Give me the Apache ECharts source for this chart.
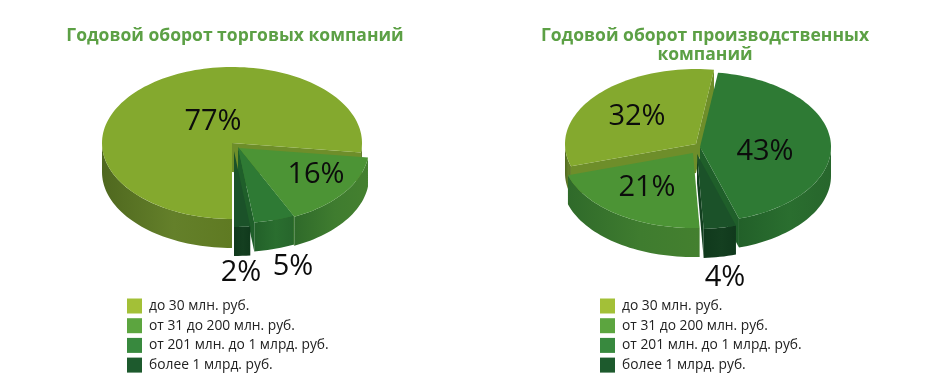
<!DOCTYPE html>
<html>
<head>
<meta charset="utf-8">
<style>
  html, body { margin: 0; padding: 0; background: #fff; }
  #chart { width: 941px; height: 391px; }
</style>
<script src="https://cdn.jsdelivr.net/npm/echarts@6/dist/echarts.min.js"></script>
</head>
<body>
<div id="chart"></div>
<script>
var categories = ['до 30 млн. руб.', 'от 31 до 200 млн. руб.', 'от 201 млн. до 1 млрд. руб.', 'более 1 млрд. руб.'];
var tradeShares = [77, 16, 5, 2];
var productionShares = [32, 21, 43, 4];
var tradeTitle = 'Годовой оборот торговых компаний';
var productionTitle = 'Годовой оборот производственных\nкомпаний';

var legendColors = ['#a3c037', '#5ca53f', '#38893e', '#1d5a2d'];
var topColors = ['#84a92e', '#4c9435', '#2e7a34', '#1b5229'];
var wallColors = [
    ['#4f681f', '#64802a', '#5f7a22'],
    ['#2f6a2a', '#3f7c2f', '#44802f'],
    ['#226029', '#2a6e2f', '#27662c'],
    ['#10391c', '#143f20', '#10391c']
];
var cutColors = ['#6e8e2a', '#3a7a2e', '#1f5f2a', '#123f1f'];

// clockwise order of the slices starts at startAngle, drawOrder is back to front
var trade = {
    shares: tradeShares, rx: 130, ry: 76, depth: 29, startAngle: 90,
    sweepOrder: [0, 1, 2, 3], drawOrder: [0, 1, 2, 3],
    centers: [[232, 143], [239, 148], [238, 147], [234, 151]],
    labels: [[213, 122], [316, 175], [293, 267], [241, 273]]
};
var production = {
    shares: productionShares, rx: 131, ry: 75, depth: 29, startAngle: 162.7,
    sweepOrder: [0, 2, 3, 1], drawOrder: [0, 2, 1, 3],
    centers: [[696, 144], [693, 153], [700, 147], [697, 154]],
    labels: [[637, 117], [647, 188], [765, 152], [725, 278]]
};

function sliceAngles(pie) {
    var angles = {};
    var current = pie.startAngle;
    pie.sweepOrder.forEach(function (i) {
        var sweep = pie.shares[i] * 3.6;
        angles[i] = [current, current + sweep];
        current += sweep;
    });
    return angles;
}

function arcPoints(c, pie, from, to) {
    var pts = [];
    var steps = Math.max(2, Math.ceil((to - from) / 2));
    for (var k = 0; k <= steps; k++) {
        var t = (from + (to - from) * k / steps) * Math.PI / 180;
        pts.push([c[0] + pie.rx * Math.cos(t), c[1] + pie.ry * Math.sin(t)]);
    }
    return pts;
}

function wallPolygon(pts, depth) {
    var lower = pts.map(function (p) { return [p[0], p[1] + depth]; }).reverse();
    return pts.concat(lower);
}

function wallFill(colors) {
    return new echarts.graphic.LinearGradient(0, 0, 1, 0, [
        { offset: 0, color: colors[0] },
        { offset: 0.55, color: colors[1] },
        { offset: 1, color: colors[2] }
    ]);
}

function facesViewer(angle) {
    return Math.sin(angle * Math.PI / 180) > 0;
}

function makeRenderItem(pie, i) {
    var angles = sliceAngles(pie);
    return function (params, api) {
        var a = angles[i];
        var c = pie.centers[i];
        var children = [];
        var rim = arcPoints(c, pie, a[0], a[1]);

        // cut faces seen through the gap between the slices
        if (facesViewer(a[0] - 90)) {
            children.push({
                type: 'polygon',
                shape: { points: wallPolygon([c, rim[0]], pie.depth) },
                style: { fill: cutColors[i] }
            });
        }
        if (facesViewer(a[1] + 90)) {
            children.push({
                type: 'polygon',
                shape: { points: wallPolygon([c, rim[rim.length - 1]], pie.depth) },
                style: { fill: cutColors[i] }
            });
        }

        // outer wall, only the front half of the ellipse shows
        for (var turn = 0; turn <= 360; turn += 360) {
            var from = Math.max(a[0], turn);
            var to = Math.min(a[1], turn + 180);
            if (to > from) {
                children.push({
                    type: 'polygon',
                    shape: { points: wallPolygon(arcPoints(c, pie, from, to), pie.depth) },
                    style: { fill: wallFill(wallColors[i]) }
                });
            }
        }

        children.push({
            type: 'polygon',
            shape: { points: [c].concat(rim) },
            style: { fill: topColors[i] }
        });
        children.push({
            type: 'text',
            z2: 100,
            style: {
                text: api.value(0) + '%',
                x: pie.labels[i][0],
                y: pie.labels[i][1],
                align: 'center',
                verticalAlign: 'middle',
                fill: '#0c0c0c',
                font: '29px "Open Sans"'
            }
        });
        return { type: 'group', children: children };
    };
}

function makeSeries(pie) {
    return pie.drawOrder.map(function (i) {
        return {
            type: 'custom',
            name: categories[i],
            coordinateSystem: 'none',
            itemStyle: { color: legendColors[i] },
            renderItem: makeRenderItem(pie, i),
            data: [[pie.shares[i]]]
        };
    });
}

function makeLegend(left) {
    return {
        orient: 'vertical',
        left: left,
        top: 293.5,
        itemWidth: 15,
        itemHeight: 15,
        itemGap: 4.7,
        icon: 'rect',
        selectedMode: false,
        data: categories,
        textStyle: { fontFamily: 'Open Sans', fontSize: 13.8, color: '#222', padding: [0, 0, 0, 2] }
    };
}

function makeTitle(text, x, y) {
    return {
        text: text,
        left: x,
        top: y,
        textAlign: 'center',
        textStyle: {
            fontFamily: 'Open Sans',
            fontSize: 17.5,
            fontWeight: 'bold',
            lineHeight: 18.5,
            color: '#5ca045'
        }
    };
}

var chart = echarts.init(document.getElementById('chart'));
chart.setOption({
    animation: false,
    backgroundColor: '#fff',
    title: [makeTitle(tradeTitle, 230, 22), makeTitle(productionTitle, 700, 22)],
    legend: [makeLegend(122), makeLegend(595)],
    series: makeSeries(trade).concat(makeSeries(production))
});
</script>
</body>
</html>
